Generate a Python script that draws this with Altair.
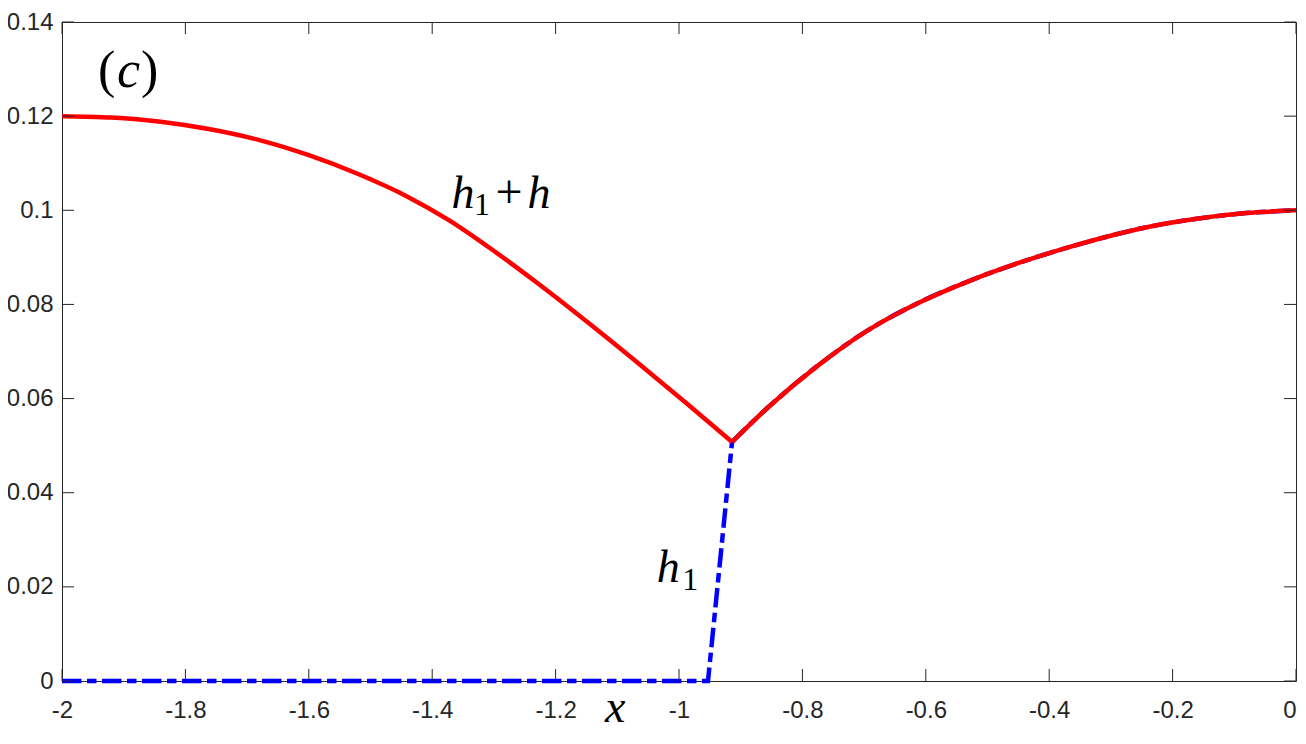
import altair as alt
import pandas as pd

# ---- data ----
# red solid curve: h1 + h (left branch, then right branch, sharing the minimum)
left_x = [-2.000, -1.920, -1.840, -1.760, -1.680, -1.600, -1.520, -1.440, -1.373,
          -1.309, -1.228, -1.147, -1.066, -0.986, -0.914]
left_y = [0.1200, 0.1197, 0.1188, 0.1172, 0.1149, 0.1117, 0.1077, 0.1029, 0.0979,
          0.0922, 0.0844, 0.0761, 0.0675, 0.0588, 0.0508]
right_x = [-0.914, -0.856, -0.775, -0.694, -0.614, -0.533, -0.452, -0.372, -0.291,
           -0.242, -0.161, -0.081, 0.000]
right_y = [0.0508, 0.0581, 0.0670, 0.0745, 0.0802, 0.0848, 0.0887, 0.0920, 0.0949,
           0.0964, 0.0982, 0.0994, 0.1000]

# blue dash-dot curve: h1 (zero, then a steep rise to the red minimum, then the right branch)
rise_x = [-2.000, -0.953, -0.914]
rise_y = [0.0, 0.0, 0.0508]

x_ticks = [-2, -1.8, -1.6, -1.4, -1.2, -1, -0.8, -0.6, -0.4, -0.2, 0]
y_ticks = [0, 0.02, 0.04, 0.06, 0.08, 0.1, 0.12, 0.14]

W, H = 1234, 659
TICK = 12
AX = "#262626"

xs = alt.Scale(domain=[-2, 0], nice=False, zero=False)
ys = alt.Scale(domain=[0, 0.14], nice=False, zero=False)

x_axis = alt.Axis(values=x_ticks, labelExpr="toString(round(datum.value*10)/10)",
                  ticks=False, tickSize=0, domain=False, grid=False, labelPadding=17,
                  labelFont="Liberation Sans", labelFontSize=24, labelColor=AX,
                  title=None, labelOverlap=False,
                  labelAlign={"condition": {"test": "datum.value == 0", "value": "right"},
                              "value": "center"})
y_axis = alt.Axis(values=y_ticks, labelExpr="toString(round(datum.value*100)/100)",
                  ticks=False, tickSize=0, domain=False, grid=False, labelPadding=9,
                  labelFont="Liberation Sans", labelFontSize=24, labelColor=AX,
                  title=None, labelOverlap=False)


def X(f):
    return alt.X(f, type="quantitative", scale=xs, axis=x_axis)


def Y(f):
    return alt.Y(f, type="quantitative", scale=ys, axis=y_axis)


red_df = pd.DataFrame({
    "x": left_x + right_x,
    "y": left_y + right_y,
    "branch": ["left"] * len(left_x) + ["right"] * len(right_x),
})
rise_df = pd.DataFrame({"x": rise_x, "y": rise_y})
blue_right_df = pd.DataFrame({"x": right_x, "y": right_y})

dash = [19.5, 5.5, 9.5, 5.5]
blue_a = alt.Chart(rise_df).mark_line(color="#0000FF", strokeWidth=4.5, strokeDash=dash).encode(
    x=X("x"), y=Y("y"), order="x:Q")
blue_b = alt.Chart(blue_right_df).mark_line(color="#0000FF", strokeWidth=4.5, strokeDash=dash,
                                            interpolate="monotone").encode(
    x=X("x"), y=Y("y"), order="x:Q")
red = alt.Chart(red_df).mark_line(color="#FF0000", strokeWidth=4.5,
                                  interpolate="monotone").encode(
    x=X("x"), y=Y("y"), detail="branch:N", order="x:Q")

xt = pd.DataFrame({"t": x_ticks})
yt = pd.DataFrame({"t": y_ticks})
rule = dict(color=AX, strokeWidth=1)
tick_b = alt.Chart(xt).mark_rule(**rule).encode(x=X("t"), y=alt.value(H), y2=alt.value(H - TICK))
tick_t = alt.Chart(xt).mark_rule(**rule).encode(x=X("t"), y=alt.value(0), y2=alt.value(TICK))
tick_l = alt.Chart(yt).mark_rule(**rule).encode(y=Y("t"), x=alt.value(0), x2=alt.value(TICK))
tick_r = alt.Chart(yt).mark_rule(**rule).encode(y=Y("t"), x=alt.value(W), x2=alt.value(W - TICK))


def txt(xv, yv, s, dx, dy, size, style):
    df = pd.DataFrame({"x": [xv], "y": [yv], "s": [s]})
    return alt.Chart(df).mark_text(align="center", baseline="alphabetic", dx=dx, dy=dy,
                                   font="Liberation Serif", fontSize=size,
                                   fontStyle=style, color="black").encode(
        x=X("x"), y=Y("y"), text="s:N")


# panel label (c)
c_x, c_y = -1.939, 0.1262
lab_c = [txt(c_x, c_y, "(", 7, 0, 52, "normal"),
         txt(c_x, c_y, "c", 29, 0, 52, "italic"),
         txt(c_x, c_y, ")", 50, 0, 52, "normal")]

# h1+h label
s_x, s_y = -1.368, 0.1005
lab_sum = [txt(s_x, s_y, "h", 11, 0, 46, "italic"),
           txt(s_x, s_y, "1", 30, 7, 32, "normal"),
           txt(s_x, s_y, "+", 57, 0, 48, "normal"),
           txt(s_x, s_y, "h", 87, 0, 46, "italic")]

# h1 label
b_x, b_y = -1.037, 0.0211
lab_h1 = [txt(b_x, b_y, "h", 12, 0, 46, "italic"),
          txt(b_x, b_y, "1", 34, 8, 32, "normal")]

# x axis title
xt_df = pd.DataFrame({"x": [-1.1034], "s": ["x"]})
x_title = alt.Chart(xt_df).mark_text(align="center", baseline="alphabetic",
                                     font="Liberation Serif", fontSize=46,
                                     fontStyle="italic", color="black").encode(
    x=X("x"), y=alt.value(H + 41), text="s:N")

chart = alt.layer(blue_a, blue_b, red, tick_b, tick_t, tick_l, tick_r,
                  *lab_c, *lab_sum, *lab_h1, x_title).properties(
    width=W, height=H,
    autosize=alt.AutoSizeParams(type="none"),
    padding={"left": 54, "top": 14, "right": 1, "bottom": 53},
    background="white",
).configure_view(stroke=AX, strokeWidth=1)

chart.save("out.html", embed_options={"renderer": "svg", "actions": False})
